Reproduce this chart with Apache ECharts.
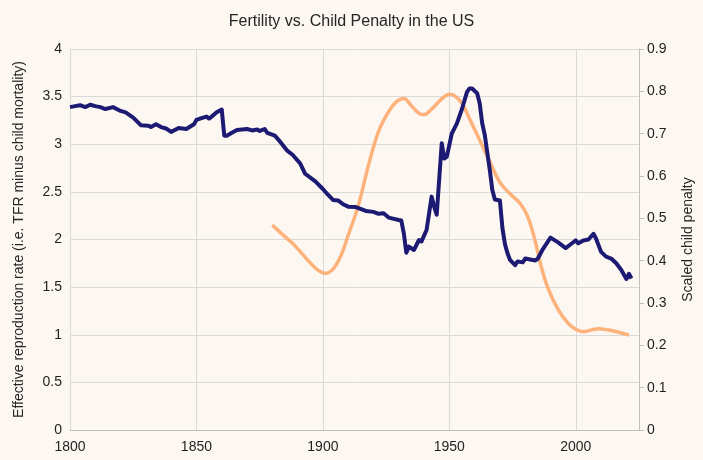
<!DOCTYPE html>
<html><head><meta charset="utf-8">
<script src="https://cdn.jsdelivr.net/npm/echarts@6/dist/echarts.min.js"></script>
<style>html,body{margin:0;padding:0;background:#fdf7f2;}#c{width:703px;height:460px;}</style>
</head><body><div id="c"></div>
<script>
var title = 'Fertility vs. Child Penalty in the US';
var leftAxisName = 'Effective reproduction rate (i.e. TFR minus child mortality)';
var rightAxisName = 'Scaled child penalty';

var fertYears = [1800,1802,1804,1806,1808,1810,1812,1814,1817,1820,1822,1825,1828,1831,1832,1834,1836,1838,1840,1843,1846,1849,1850,1852,1854,1855,1856,1858,1860,1861,1862,1864,1866,1870,1872,1874,1875,1877,1878,1881,1883,1886,1888,1891,1893,1897,1900,1902,1904,1906,1908,1910,1913,1917,1920,1922,1924,1926,1930,1931,1932,1933,1934,1936,1938,1939,1941,1943,1944,1945,1947,1948,1949,1951,1953,1955,1957,1958,1959,1961,1962,1963,1964,1966,1967,1968,1970,1971,1972,1973,1974,1976,1977,1979,1980,1982,1984,1985,1987,1990,1993,1996,1998,2000,2001,2003,2005,2007,2008,2010,2012,2014,2016,2018,2020,2021,2022];
var fertValues = [3.39,3.40,3.41,3.39,3.415,3.40,3.39,3.37,3.39,3.35,3.335,3.28,3.20,3.195,3.18,3.21,3.18,3.165,3.13,3.17,3.16,3.21,3.255,3.275,3.29,3.27,3.29,3.335,3.365,3.09,3.09,3.12,3.15,3.16,3.145,3.155,3.14,3.16,3.12,3.09,3.03,2.93,2.89,2.80,2.69,2.61,2.53,2.47,2.415,2.41,2.37,2.345,2.34,2.30,2.29,2.27,2.275,2.23,2.205,2.20,2.065,1.86,1.925,1.89,1.995,1.98,2.10,2.45,2.345,2.26,3.01,2.85,2.87,3.115,3.22,3.37,3.55,3.585,3.585,3.535,3.43,3.22,3.10,2.73,2.52,2.42,2.41,2.12,1.95,1.855,1.785,1.73,1.77,1.76,1.80,1.79,1.78,1.80,1.90,2.02,1.97,1.91,1.95,1.99,1.96,1.99,2.00,2.06,2.01,1.87,1.82,1.80,1.75,1.68,1.585,1.64,1.59];

var penaltyYears = [1880,1884,1888,1892,1895,1898,1901,1904,1907,1910,1914,1918,1922,1926,1929,1932,1935,1938,1940,1943,1947,1950,1952,1955,1958,1962,1966,1970,1974,1978,1981,1984,1986,1989,1993,1997,2000,2003,2006,2009,2013,2017,2021];
var penaltyValues = [0.484,0.462,0.441,0.415,0.395,0.378,0.370,0.380,0.410,0.46,0.53,0.625,0.705,0.752,0.775,0.783,0.766,0.748,0.745,0.758,0.782,0.793,0.790,0.772,0.735,0.685,0.634,0.585,0.558,0.535,0.504,0.445,0.394,0.335,0.285,0.252,0.238,0.232,0.236,0.239,0.236,0.231,0.224];

function pairs(xs, ys){ return xs.map(function(x,i){ return [x, ys[i]]; }); }

var font = 'Liberation Sans, Arial, sans-serif';
var chart = echarts.init(document.getElementById('c'));
chart.setOption({
  backgroundColor: '#fdf7f2',
  animation: false,
  title: { text: title, left: 'center', top: 9,
    textStyle: { fontFamily: font, fontSize: 16, fontWeight: 'normal', color: '#262626' } },
  grid: { left: 70, right: 62, top: 49, bottom: 30, containLabel: false },
  xAxis: { type: 'value', min: 1800, max: 2025, interval: 50,
    axisLine: { show: true, lineStyle: { color: '#bfbfbf' } },
    axisTick: { show: false },
    axisLabel: { showMaxLabel: false, fontFamily: font, fontSize: 14, color: '#1f1f1f', margin: 10,
      formatter: function(v){ return String(v); } },
    splitLine: { show: true, lineStyle: { color: '#d9d9d9', width: 1 } } },
  yAxis: [
    { type: 'value', min: 0, max: 4, interval: 0.5, position: 'left',
      name: leftAxisName, nameLocation: 'middle', nameGap: 44, nameRotate: 90,
      nameTextStyle: { fontFamily: font, fontSize: 14, color: '#262626' },
      axisLine: { show: false }, axisTick: { show: false },
      axisLabel: { fontFamily: font, fontSize: 14, color: '#1f1f1f', margin: 8 },
      splitLine: { show: true, lineStyle: { color: '#d9d9d9', width: 1 } } },
    { type: 'value', min: 0, max: 0.9, interval: 0.1, position: 'right',
      name: rightAxisName, nameLocation: 'middle', nameGap: 42, nameRotate: 90,
      nameTextStyle: { fontFamily: font, fontSize: 14, color: '#262626' },
      axisLine: { show: true, lineStyle: { color: '#bfbfbf' } },
      axisTick: { show: true, inside: false, length: 5, lineStyle: { color: '#bfbfbf' } },
      axisLabel: { fontFamily: font, fontSize: 14, color: '#1f1f1f', margin: 8 },
      splitLine: { show: false } }
  ],
  series: [
    { type: 'line', name: 'Penalty', yAxisIndex: 1, data: pairs(penaltyYears, penaltyValues),
      smooth: 0.4, showSymbol: false, lineStyle: { color: '#fdb27b', width: 3.5 }, z: 2 },
    { type: 'line', name: 'Fertility', yAxisIndex: 0, data: pairs(fertYears, fertValues),
      smooth: false, showSymbol: false, lineStyle: { color: '#1c1a72', width: 4, join: 'round' }, z: 3 }
  ]
});
</script></body></html>
